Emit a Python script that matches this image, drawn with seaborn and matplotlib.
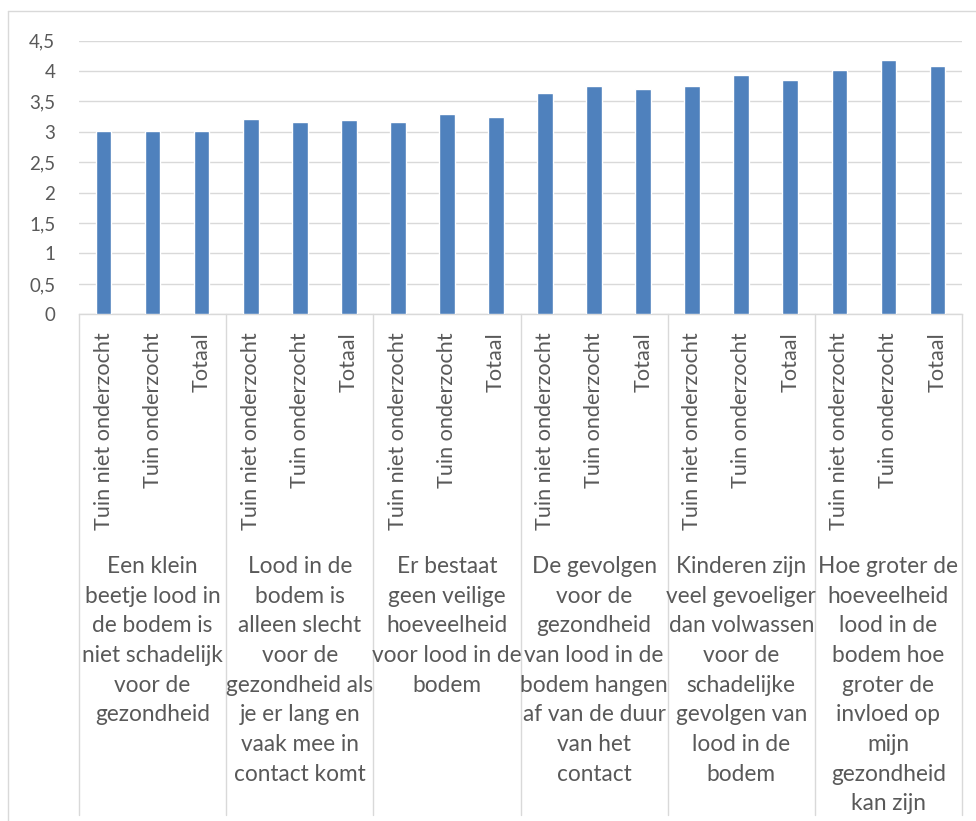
import matplotlib
matplotlib.use("Agg")
import matplotlib.pyplot as plt
import matplotlib.transforms as mtransforms
from matplotlib.lines import Line2D
from matplotlib.ticker import FuncFormatter
import pandas as pd
import seaborn as sns

# Stellingen (hoofdcategorieën)
stellingen = [
    "Een klein\nbeetje lood in\nde bodem is\nniet schadelijk\nvoor de\ngezondheid",
    "Lood in de\nbodem is\nalleen slecht\nvoor de\ngezondheid als\nje er lang en\nvaak mee in\ncontact komt",
    "Er bestaat\ngeen veilige\nhoeveelheid\nvoor lood in de\nbodem",
    "De gevolgen\nvoor de\ngezondheid\nvan lood in de\nbodem hangen\naf van de duur\nvan het\ncontact",
    "Kinderen zijn\nveel gevoeliger\ndan volwassen\nvoor de\nschadelijke\ngevolgen van\nlood in de\nbodem",
    "Hoe groter de\nhoeveelheid\nlood in de\nbodem hoe\ngroter de\ninvloed op\nmijn\ngezondheid\nkan zijn",
]
groepen = ["Tuin niet onderzocht", "Tuin onderzocht", "Totaal"]

# Gemiddelde score per stelling
score_niet_onderzocht = [3.01, 3.21, 3.16, 3.64, 3.76, 4.01]
score_onderzocht = [3.01, 3.16, 3.30, 3.75, 3.94, 4.18]
score_totaal = [3.01, 3.19, 3.25, 3.70, 3.85, 4.09]

y_ticks = [0, 0.5, 1, 1.5, 2, 2.5, 3, 3.5, 4, 4.5]

rows = []
for i, stelling in enumerate(stellingen):
    for groep, reeks in zip(groepen, [score_niet_onderzocht, score_onderzocht, score_totaal]):
        rows.append({"positie": f"{i}|{groep}", "stelling": stelling,
                     "groep": groep, "score": reeks[i]})
df = pd.DataFrame(rows)

sns.set_theme(style="white")
plt.rcParams["font.family"] = ["Lato", "DejaVu Sans"]

W, H = 976, 821
fig = plt.figure(figsize=(W / 100, H / 100), dpi=100)
left_px, right_px, top_px, bottom_px = 79, 962, 40.7, 314.3
ax = fig.add_axes([left_px / W, 1 - bottom_px / H,
                   (right_px - left_px) / W, (bottom_px - top_px) / H])

grid_col = "#d9d9d9"
text_col = "#595959"

sns.barplot(data=df, x="positie", y="score", order=list(df["positie"]),
            color="#4f81bd", saturation=1, width=0.32, ax=ax, zorder=3)

ax.set_ylim(0, 4.5)
ax.set_xlim(-0.5, len(df) - 0.5)
ax.set_yticks(y_ticks)
ax.yaxis.set_major_formatter(FuncFormatter(lambda v, p: f"{v:g}".replace(".", ",")))
ax.grid(axis="y", color=grid_col, linewidth=1.0, zorder=0)
ax.set_axisbelow(True)
for side in ["top", "right", "left"]:
    ax.spines[side].set_visible(False)
ax.spines["bottom"].set_color(grid_col)
ax.spines["bottom"].set_linewidth(1.0)

ax.set_xticks(range(len(df)))
ax.set_xticklabels(list(df["groep"]), rotation=90, va="top", ha="center")
ax.tick_params(axis="x", length=0, pad=13, labelsize=15.6, labelcolor=text_col)
ax.tick_params(axis="y", length=0, pad=17, labelsize=13.5, labelcolor=text_col)
ax.set_xlabel("")
ax.set_ylabel("")

# Scheidingslijnen en labels van de hoofdcategorieën
trans = mtransforms.blended_transform_factory(ax.transData, ax.transAxes)
ax_h = bottom_px - top_px
y_end = (bottom_px - 815) / ax_h
for k in range(len(stellingen) + 1):
    x = k * 3 - 0.5
    ax.add_line(Line2D([x, x], [0, y_end], transform=trans, color=grid_col,
                       linewidth=1.0, clip_on=False))
y_lab = (bottom_px - 556) / ax_h
for i, stelling in enumerate(stellingen):
    ax.text(i * 3 + 1, y_lab, stelling, transform=trans, ha="center", va="top",
            fontsize=16.3, color=text_col, linespacing=1.51)

# Kaderrand van de grafiek
fig.add_artist(Line2D([8 / W, 8 / W], [1 - 11 / H, 0], transform=fig.transFigure,
                      color=grid_col, linewidth=1.0))
fig.add_artist(Line2D([8 / W, 1], [1 - 11 / H, 1 - 11 / H], transform=fig.transFigure,
                      color=grid_col, linewidth=1.0))

fig.savefig("out.png", dpi=100, facecolor="white")
